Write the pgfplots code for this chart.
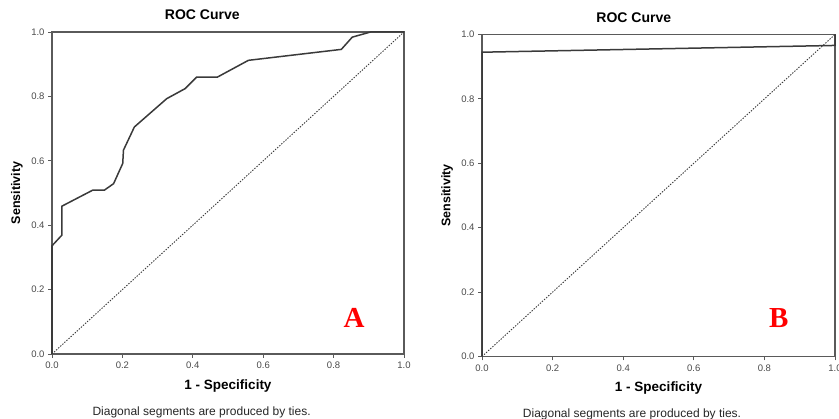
\documentclass[border=0pt]{standalone}
\usepackage{pgfplots}
\pgfplotsset{compat=1.18}
\usepackage{fontspec}
\setmainfont{Liberation Sans}
\newfontfamily\serifbold{Liberation Serif}

\definecolor{framegray}{HTML}{5A5A5A}
\definecolor{curvegray}{HTML}{3A3A3A}
\definecolor{ticktext}{HTML}{4A4A4A}

\pgfplotsset{
  rocaxis/.style={
    scale only axis,
    xmin=0, xmax=1, ymin=0, ymax=1,
    xtick={0,0.2,0.4,0.6,0.8,1},
    ytick={0,0.2,0.4,0.6,0.8,1},
    tick pos=left,
    tick align=outside,
    major tick length=4pt,
    axis line style={framegray, line width=1.1pt},
    every tick/.style={framegray, line width=0.9pt},
    /pgf/number format/assume math mode=true,
    /pgf/number format/.cd, fixed, fixed zerofill, precision=1, /pgfplots/.cd,
    tick label style={font=\fontsize{9.5}{11}\selectfont, text=ticktext},
    xticklabel style={yshift=-0.5pt},
    yticklabel style={xshift=0pt},
    title style={font=\fontsize{14}{16}\selectfont\bfseries, at={(axis description cs:0.427,1.035)}, anchor=center},
    xlabel style={font=\fontsize{13.5}{16}\selectfont\bfseries, at={(axis description cs:0.5,-0.099)}, anchor=center},
    ylabel style={font=\fontsize{12.5}{15}\selectfont\bfseries, at={(axis description cs:-0.1,0.5)}, anchor=center},
    clip=false,
  },
}

\begin{document}
\begin{tikzpicture}
\useasboundingbox (0,0) rectangle (839pt,419pt);

% panel A
\begin{axis}[rocaxis, at={(52pt,65pt)}, anchor=south west, width=352pt, height=322pt,
    title={ROC Curve}, xlabel={1 - Specificity}, ylabel={Sensitivity}]
  \addplot[curvegray, line width=1.5pt] coordinates {
    (0,0) (0,0.336) (0.028,0.369) (0.028,0.459) (0.116,0.509) (0.149,0.509)
    (0.175,0.529) (0.201,0.592) (0.203,0.633) (0.234,0.705) (0.326,0.793)
    (0.378,0.824) (0.411,0.860) (0.470,0.860) (0.558,0.912) (0.822,0.946)
    (0.853,0.984) (0.905,1) (1,1)};
  \addplot[curvegray, line width=0.9pt, dash pattern=on 1.4pt off 1.4pt] coordinates {(0,0) (1,1)};
  \node[font=\fontsize{12}{14}\selectfont, text=black!85] at (axis description cs:0.425,-0.18) {Diagonal segments are produced by ties.};
  \node[font=\serifbold\bfseries\fontsize{29}{30}\selectfont, text=red] at (axis description cs:0.858,0.112) {A};
\end{axis}

% panel B
\begin{axis}[rocaxis, at={(482pt,62.5pt)}, anchor=south west, width=353pt, height=322pt,
    title={ROC Curve}, xlabel={1 - Specificity}, ylabel={Sensitivity},
    title style={at={(axis description cs:0.43,1.033)}},
    xlabel style={at={(axis description cs:0.5,-0.098)}},
    ylabel style={at={(axis description cs:-0.099,0.5)}}]
  \addplot[curvegray, line width=1.5pt] coordinates {
    (0,0) (0,0.945) (1,0.966) (1,1)};
  \addplot[curvegray, line width=0.9pt, dash pattern=on 1.4pt off 1.4pt] coordinates {(0,0) (1,1)};
  \node[font=\fontsize{12}{14}\selectfont, text=black!85] at (axis description cs:0.425,-0.179) {Diagonal segments are produced by ties.};
  \node[font=\serifbold\bfseries\fontsize{29}{30}\selectfont, text=red] at (axis description cs:0.841,0.12) {B};
\end{axis}
\end{tikzpicture}
\end{document}
